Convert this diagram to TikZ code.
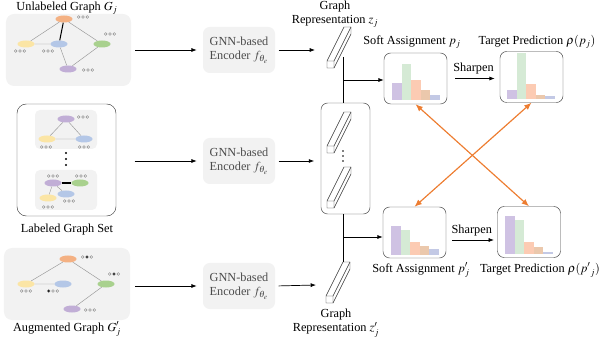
\documentclass[tikz,border=0pt]{standalone}
\usepackage{mathptmx}
\usepackage{fontspec}
\setmainfont{Liberation Serif}
\usetikzlibrary{shapes.geometric,arrows.meta,calc}

\definecolor{vor}{HTML}{F4B183}
\definecolor{vye}{HTML}{FBE5A5}
\definecolor{vbl}{HTML}{B4C7E7}
\definecolor{vgr}{HTML}{A9D18E}
\definecolor{vpu}{HTML}{C1AED6}
\definecolor{bpu}{HTML}{CFC2E3}
\definecolor{bgr}{HTML}{D5EAD5}
\definecolor{bor}{HTML}{FCCBB3}
\definecolor{bpe}{HTML}{EBC8AC}
\definecolor{bbl}{HTML}{C3C9E5}
\definecolor{ornge}{HTML}{ED7D31}

\tikzset{
  gpanel/.style={fill=black!5, rounded corners=2.4mm, inner sep=0},
  lpanel/.style={draw=black!75, rounded corners=2.8mm, inner sep=0},
  vtx/.style={ellipse, minimum width=5.1mm, minimum height=2.1mm, inner sep=0},
  ed/.style={draw=black!40, line width=0.4pt},
  ked/.style={draw=black, line width=0.9pt},
  enc/.style={fill=black!5, rounded corners=2mm, minimum width=21.6mm, minimum height=13.8mm, text=black!70, align=center, inner sep=0},
  pbox/.style={draw=black!75, rounded corners=2mm, minimum width=18.9mm, minimum height=15.3mm, inner sep=0},
  arr/.style={-{Latex[length=1.6mm,width=1.2mm]}, line width=0.6pt},
  oarr/.style={{Latex[length=2.2mm,width=1.8mm]}-{Latex[length=2.2mm,width=1.8mm]}, draw=ornge, line width=1pt},
  zvec/.pic={
    \filldraw[fill=white, draw=black!80, line width=0.4pt] (0,0) -- (0,-7) -- (17,-41) -- (24,-41) -- (24,-34) -- (7,0) -- cycle;
    \draw[black!80, line width=0.4pt] (0,-7) -- (7,-7) -- (7,0) (7,-7) -- (24,-41);
  }
}

\newcommand{\feat}[2]{%
  \foreach \c [count=\i from -1] in {#2}
    \draw[black!55, line width=0.3pt, fill=\c] ($#1+(\i*4.3,0)$) circle (0.42mm);}
\newcommand{\bars}[3]{%
  \foreach \h/\c [count=\i from 0] in {#3}
    \fill[\c] (#1+\i*9.6,#2) rectangle ++(9.6,-\h);}

\begin{document}
\begin{tikzpicture}[x=0.3mm, y=-0.3mm, font=\fontsize{10.5}{12.6}\selectfont]
\useasboundingbox (0,0) rectangle (605,347);

\node[gpanel, minimum width=37.5mm, minimum height=21.6mm] (upanel) at (68.5,50) {};
\node[lpanel, minimum width=29.7mm, minimum height=33.6mm] (lpanel) at (66.5,160) {};
\node[gpanel, rounded corners=1.5mm, minimum width=18.6mm, minimum height=11.7mm] (lset1) at (66,129.5) {};
\node[gpanel, rounded corners=1.5mm, minimum width=18.6mm, minimum height=12mm] (lset2) at (66,190) {};
\node[gpanel, minimum width=37.8mm, minimum height=21.6mm] (apanel) at (67,284) {};

\node at (67,8) {Unlabeled Graph $G_j$};
\node at (67,230) {Labeled Graph Set};
\node at (67,329) {Augmented Graph $G'_j$};

\node[vtx, fill=vor] (uo) at (64,19) {};
\node[vtx, fill=vye] (uy) at (26,44) {};
\node[vtx, fill=vbl] (ub) at (59,44) {};
\node[vtx, fill=vgr] (ug) at (102,44) {};
\node[vtx, fill=vpu] (up) at (68,69) {};
\draw[ed] (uo) -- (uy) (uo) -- (ug) (uy) -- (ub) (ub) -- (up) (ug) -- (up);
\draw[ked] (uo) -- (ub);
\feat{(83,17)}{white,white,white}
\feat{(110,34)}{white,white,white}
\feat{(20,51)}{white,white,white}
\feat{(48,51)}{white,white,white}
\feat{(88,70)}{white,white,white}

\node[vtx, fill=vpu] (lp) at (66,119) {};
\node[vtx, fill=vye] (ly) at (47,139) {};
\node[vtx, fill=vbl] (lb) at (84,139) {};
\draw[ed] (lp) -- (ly) (lp) -- (lb) (ly) -- (lb);
\feat{(83,117)}{white,white,white}
\feat{(46,147)}{white,white,white}
\feat{(84,147)}{white,white,white}
\foreach \y in {153,159,165}
  \fill (66,\y) circle (0.35mm);
\node[vtx, fill=vpu] (mp) at (53,183) {};
\node[vtx, fill=vgr] (mg) at (80,183) {};
\node[vtx, fill=vbl] (mb) at (66,194) {};
\node[vtx, fill=vye] (my) at (48,198) {};
\draw[ed] (mp) -- (my) (mp) -- (mb);
\draw[ked] (mp) -- (mg);
\feat{(53,176)}{white,white,white}
\feat{(81,176)}{white,white,white}
\feat{(69,201)}{white,white,white}
\feat{(48,207)}{white,white,white}

\node[vtx, fill=vor] (ao) at (68,259) {};
\node[vtx, fill=vye] (ay) at (26,284) {};
\node[vtx, fill=vbl] (ab) at (63,284) {};
\node[vtx, fill=vgr] (ag) at (106,284) {};
\node[vtx, fill=vpu] (ap) at (72,309) {};
\draw[ed] (ao) -- (ay) (ao) -- (ag) (ay) -- (ab) (ag) -- (ap);
\feat{(87,257)}{white,black,white}
\feat{(114,274)}{white,black,white}
\feat{(26,291)}{white,white,white}
\feat{(53,291)}{black,white,white}
\feat{(90,310)}{white,white,white}

\node[enc] (enc1) at (239,50) {GNN-based\\Encoder $f_{\theta_e}$};
\node[enc] (enc2) at (239,161) {GNN-based\\Encoder $f_{\theta_e}$};
\node[enc] (enc3) at (239,286) {GNN-based\\Encoder $f_{\theta_e}$};
\draw[arr, shorten <=1.2mm, shorten >=1.8mm] (upanel.east |- enc1) -- (enc1.west);
\draw[arr, shorten <=5.5mm, shorten >=1.8mm] (lpanel.east |- enc2) -- (enc2.west);
\draw[arr, shorten <=1.5mm, shorten >=1.8mm] (apanel.east |- enc3) -- (enc3.west);

\pic at (327,68) {zvec};
\node[lpanel, rounded corners=2mm, minimum width=14.7mm, minimum height=33.3mm] (zset) at (345.5,158.5) {};
\pic at (327,153) {zvec};
\pic at (327,208) {zvec};
\foreach \y in {151,156,161}
  \fill (343,\y) circle (0.25mm);
\pic at (326,303) {zvec};
\node[align=center] at (335,14) {Graph\\Representation $z_j$};
\node[align=center] at (336,323) {Graph\\Representation $z'_j$};

\coordinate (zin1) at (315,50);
\coordinate (zin3) at (316,285);
\draw[arr, shorten <=1mm] (enc1.east) -- (zin1);
\draw[arr, shorten <=1mm, shorten >=2mm] (enc2.east) -- (zset.west |- enc2);
\draw[arr, shorten <=1mm] (enc3.east) -- (zin3);

\node[pbox] (sa1) at (415.5,78.5) {};
\node[pbox] (tp1) at (531.5,77) {};
\node[pbox] (sa2) at (414.5,232.5) {};
\node[pbox] (tp2) at (529,232) {};
\bars{392}{100}{17/bpu,36/bgr,20/bor,10/bpe,5/bbl}
\bars{507}{99}{9/bpu,46/bgr,15/bor,4/bpe,3/bbl}
\bars{391}{255}{29/bpu,25/bgr,13/bor,9/bpe,6/bbl}
\bars{505}{254}{38/bpu,34/bgr,12/bor,7/bpe,2/bbl}
\node at (412,42) {Soft Assignment $p_j$};
\node at (537,42) {Target Prediction $\rho(p_j)$};
\node at (421,270) {Soft Assignment $p'_j$};
\node at (540,270) {Target Prediction $\rho({p'}_j)$};

\coordinate (ztop) at (343,57);
\coordinate (zbot) at (343,262);
\coordinate (j1) at (343,80);
\coordinate (j2) at (343,237);
\draw[line width=0.6pt] (ztop) -- (ztop |- zset.north);
\draw[line width=0.6pt] (zbot |- zset.south) -- (zbot);
\draw[arr] (j1) -- (j1 -| sa1.west);
\draw[arr] (j2) -- (j2 -| sa2.west);

\draw[arr, shorten <=2.4mm, shorten >=1.5mm] (sa1.east) -- node[above] {Sharpen} (sa1.east -| tp1.west);
\draw[arr, shorten <=1.8mm, shorten >=1mm] (sa2.east |- 0,240) -- node[above] {Sharpen} (tp2.west |- 0,240);

\draw[oarr] (sa1.south) -- (tp2.north);
\draw[oarr] (tp1.south) -- (sa2.north);
\end{tikzpicture}
\end{document}
